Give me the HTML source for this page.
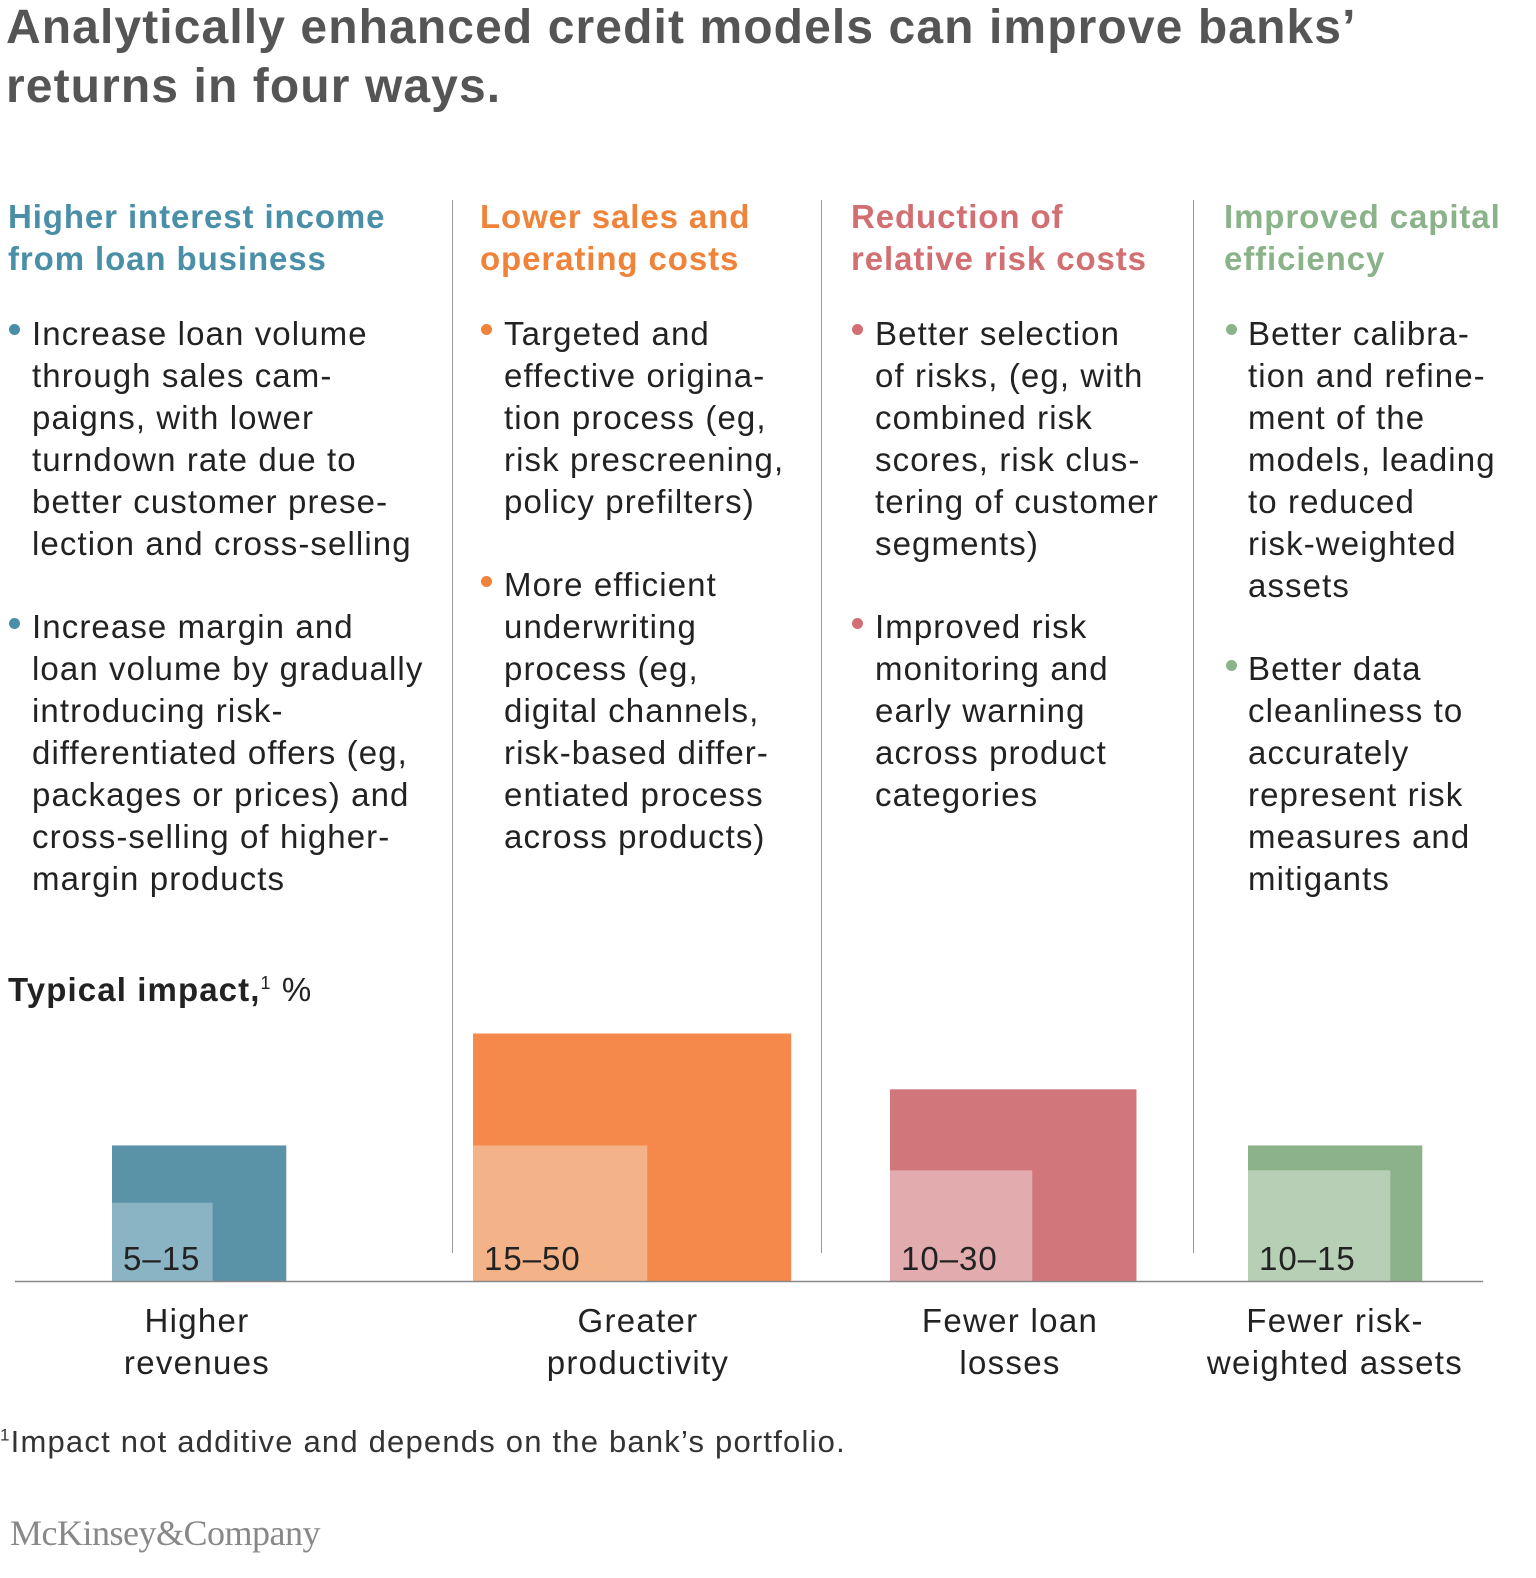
<!DOCTYPE html>
<html><head><meta charset="utf-8">
<style>
body{margin:0;width:1536px;height:1578px;background:#fff;position:relative;font-family:"Liberation Sans",Arial,sans-serif;overflow:hidden}
.a{position:absolute;white-space:nowrap}
.title{left:6px;top:-2px;font-size:48px;line-height:59px;color:#555;font-weight:bold;letter-spacing:1.1px}
.h{top:196px;font-size:33px;line-height:42px;font-weight:bold;letter-spacing:0.9px}
.b{font-size:33px;line-height:42px;color:#222;letter-spacing:1.1px}
.dot{position:absolute;width:11px;height:11px;border-radius:50%}
.div{position:absolute;top:200px;width:1px;height:1053px;background:#999}
</style></head><body>
<div class="a title">Analytically enhanced credit models can improve banks’<br>returns in four ways.</div>

<div class="a h" style="left:8px;color:#4a8fa8">Higher interest income<br>from loan business</div>
<div class="a h" style="left:480px;color:#f0833a">Lower sales and<br>operating costs</div>
<div class="a h" style="left:851px;color:#d26f72">Reduction of<br>relative risk costs</div>
<div class="a h" style="left:1224px;color:#8bb38a">Improved capital<br>efficiency</div>

<div class="div" style="left:452px"></div>
<div class="div" style="left:821px"></div>
<div class="div" style="left:1193px"></div>

<div class="dot" style="left:9px;top:324px;background:#4a8fa8"></div>
<div class="a b" style="left:32px;top:313px">Increase loan volume<br>through sales cam-<br>paigns, with lower<br>turndown rate due to<br>better customer prese-<br>lection and cross-selling</div>
<div class="dot" style="left:9px;top:618px;background:#4a8fa8"></div>
<div class="a b" style="left:32px;top:606px">Increase margin and<br>loan volume by gradually<br>introducing risk-<br>differentiated offers (eg,<br>packages or prices) and<br>cross-selling of higher-<br>margin products</div>

<div class="dot" style="left:481px;top:324px;background:#f0833a"></div>
<div class="a b" style="left:504px;top:313px">Targeted and<br>effective origina-<br>tion process (eg,<br>risk prescreening,<br>policy prefilters)</div>
<div class="dot" style="left:481px;top:576px;background:#f0833a"></div>
<div class="a b" style="left:504px;top:564px">More efficient<br>underwriting<br>process (eg,<br>digital channels,<br>risk-based differ-<br>entiated process<br>across products)</div>

<div class="dot" style="left:852px;top:324px;background:#d26f72"></div>
<div class="a b" style="left:875px;top:313px">Better selection<br>of risks, (eg, with<br>combined risk<br>scores, risk clus-<br>tering of customer<br>segments)</div>
<div class="dot" style="left:852px;top:618px;background:#d26f72"></div>
<div class="a b" style="left:875px;top:606px">Improved risk<br>monitoring and<br>early warning<br>across product<br>categories</div>

<div class="dot" style="left:1226px;top:324px;background:#8bb38a"></div>
<div class="a b" style="left:1248px;top:313px">Better calibra-<br>tion and refine-<br>ment of the<br>models, leading<br>to reduced<br>risk-weighted<br>assets</div>
<div class="dot" style="left:1226px;top:660px;background:#8bb38a"></div>
<div class="a b" style="left:1248px;top:648px">Better data<br>cleanliness to<br>accurately<br>represent risk<br>measures and<br>mitigants</div>

<div class="a b" style="left:8px;top:962px;color:#222"><b>Typical impact,</b><sup style="font-size:18px">1</sup> %</div>

<svg id="chart" class="a" style="left:0;top:0" width="1536" height="1578"></svg>

<div class="a" style="left:0;top:1424px;font-size:31px;color:#333;letter-spacing:1.2px"><sup style="font-size:17px">1</sup>Impact not additive and depends on the bank’s portfolio.</div>
<div class="a" style="left:10px;top:1512px;font-size:36px;color:#888;font-family:'Liberation Serif',serif;letter-spacing:-0.5px">McKinsey&amp;Company</div>

<script>
const categories = ["Higher\nrevenues","Greater\nproductivity","Fewer loan\nlosses","Fewer risk-\nweighted assets"];
const lowValues = [5, 15, 10, 10];
const highValues = [15, 50, 30, 15];
const rangeLabels = ["5–15","15–50","10–30","10–15"];
const outerColors = ["#5a93a8","#f4894b","#d1767a","#8cb28a"];
const innerColors = ["#8ab3c3","#f4b288","#e2abae","#b7cfb5"];
const groupLeft = [112, 473, 890, 1248];
const catCenter = [197, 638, 1010, 1335];
const baseY = 1281;
const hScale = v => 35 * Math.sqrt(v);
const wScale = v => 45 * Math.sqrt(v);
const NS = "http://www.w3.org/2000/svg";
const svg = document.getElementById("chart");
function mk(t, attrs){const e=document.createElementNS(NS,t);for(const k in attrs)e.setAttribute(k,attrs[k]);svg.appendChild(e);return e;}
categories.forEach((c,i)=>{
  const x=groupLeft[i];
  const o=mk("rect",{x:x,y:baseY-hScale(highValues[i]),width:wScale(highValues[i]),height:hScale(highValues[i]),fill:outerColors[i]});
  
  
  const n=mk("rect",{x:x,y:baseY-hScale(lowValues[i]),width:wScale(lowValues[i]),height:hScale(lowValues[i]),fill:innerColors[i]});
  
  
  const t=mk("text",{x:x+11,y:baseY-11,"font-size":33,fill:"#222","font-family":"Liberation Sans, Arial, sans-serif","letter-spacing":"1"});
  t.textContent=rangeLabels[i];
  
  
  c.split("\n").forEach((ln,j)=>{
    const l=mk("text",{x:catCenter[i],y:1332+j*42,"font-size":33,fill:"#222","text-anchor":"middle","font-family":"Liberation Sans, Arial, sans-serif","letter-spacing":"1.3"});
    l.textContent=ln;
    
    
  });
});
const ax=mk("line",{x1:15,x2:1483,y1:baseY+0.5,y2:baseY+0.5,stroke:"#888","stroke-width":1.5});


</script>
</body></html>
